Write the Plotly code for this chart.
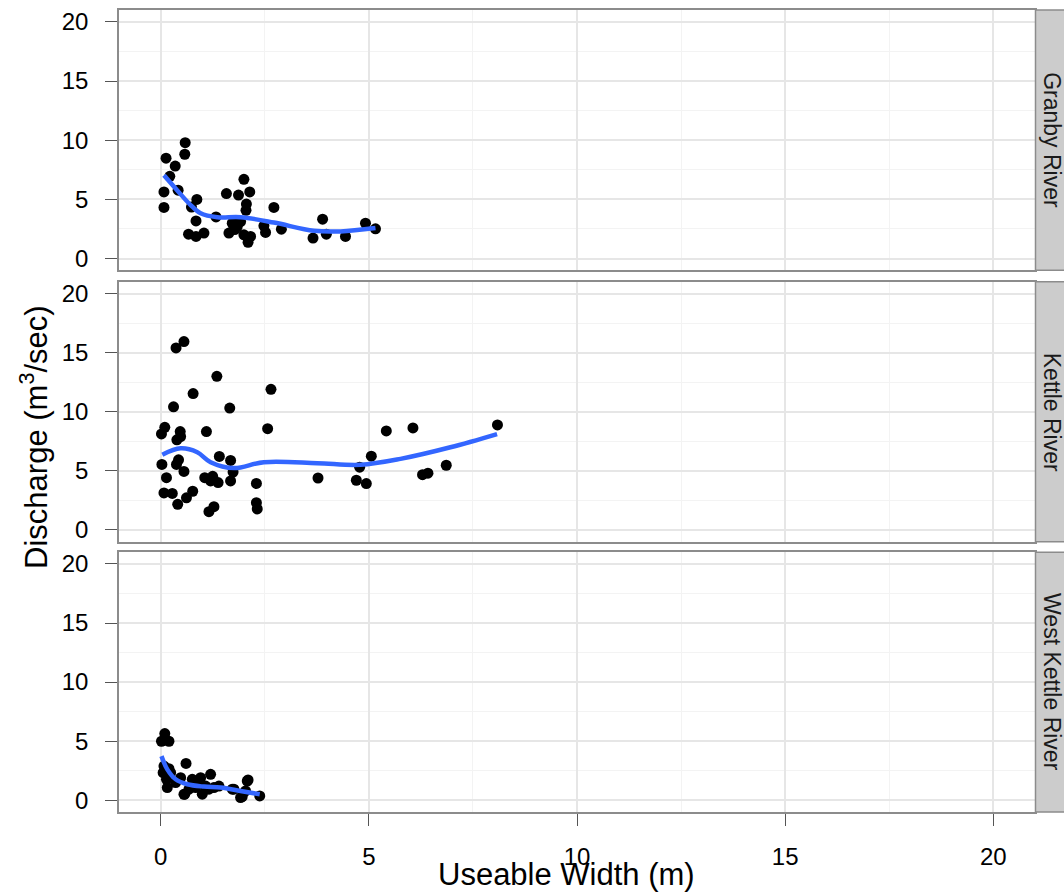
import plotly.graph_objects as go

# River names shown in the facet strips
rivers = ["Granby River", "Kettle River", "West Kettle River"]

# Observations: useable width (m) and discharge (m^3/sec)
granby_width = [0.59, 0.58, 0.13, 0.35, 0.22, 0.08, 0.42, 0.08, 0.74, 0.87, 0.85, 0.67, 0.85,
                1.04, 1.33, 1.58, 1.87, 2.00, 2.14, 2.06, 2.05, 1.64, 1.72, 1.84, 1.92, 2.00,
                2.16, 2.10, 2.72, 2.48, 2.52, 2.90, 3.89, 3.98, 3.66, 4.44, 4.92, 5.16, 1.78]
granby_discharge = [9.79, 8.81, 8.48, 7.81, 6.95, 5.63, 5.77, 4.32, 4.35, 4.99, 3.18, 2.06, 1.87,
                    2.15, 3.51, 5.49, 5.36, 6.69, 5.63, 4.60, 4.07, 2.15, 2.98, 2.70, 3.12, 2.00,
                    1.87, 1.37, 4.32, 2.76, 2.20, 2.48, 3.32, 2.06, 1.73, 1.87, 2.98, 2.51, 2.45]

kettle_width = [0.37, 0.56, 1.35, 2.65, 0.78, 0.31, 1.66, 0.10, 0.02, 0.47, 0.48, 0.39, 1.10,
                2.57, 5.42, 6.06, 8.09, 0.03, 0.43, 0.38, 0.56, 0.14, 0.08, 0.28, 0.41, 0.62,
                0.77, 1.06, 1.25, 1.38, 1.20, 1.41, 1.68, 1.74, 1.68, 1.16, 1.28, 2.30, 2.30,
                2.32, 3.78, 4.70, 4.94, 4.78, 5.06, 6.29, 6.42, 6.86]
kettle_discharge = [15.40, 15.94, 13.00, 11.90, 11.54, 10.42, 10.31, 8.68, 8.12, 8.32, 7.90, 7.62,
                    8.32, 8.57, 8.38, 8.63, 8.88, 5.54, 5.93, 5.54, 4.95, 4.42, 3.13, 3.08, 2.16,
                    2.71, 3.27, 4.42, 4.53, 4.00, 4.14, 6.22, 5.88, 4.89, 4.14, 1.54, 1.96, 3.93,
                    2.30, 1.77, 4.39, 4.20, 3.92, 5.31, 6.24, 4.67, 4.80, 5.47]

wk_width = [0.02, 0.20, 0.10, 0.61, 0.08, 0.20, 0.06, 0.16, 0.14, 0.48, 0.58, 0.76, 0.96, 0.84,
            1.00, 1.20, 1.16, 0.68, 1.40, 1.76, 1.96, 2.10, 2.04, 2.38, 0.36, 0.88, 1.08, 1.28,
            0.24, 2.08, 1.92, 1.72, 0.80, 0.56]
wk_discharge = [4.99, 4.99, 5.64, 3.11, 2.89, 2.67, 2.33, 1.07, 1.77, 1.91, 0.51, 1.77, 1.91, 1.07,
                0.51, 2.19, 0.93, 0.93, 1.20, 0.93, 0.31, 1.71, 0.78, 0.36, 1.49, 1.49, 1.20, 1.07,
                2.33, 1.62, 0.22, 0.93, 1.62, 0.50]

# Fitted smoothing curves
granby_fit_x = [0.08, 0.40, 0.72, 0.96, 1.36, 1.92, 2.72, 3.68, 4.32, 5.16]
granby_fit_y = [7.03, 5.75, 4.52, 3.82, 3.49, 3.49, 3.04, 2.34, 2.29, 2.57]
kettle_fit_x = [0.04, 0.48, 0.88, 1.20, 1.76, 2.48, 3.76, 4.80, 5.76, 6.96, 8.08]
kettle_fit_y = [6.36, 6.90, 6.57, 5.73, 5.23, 5.73, 5.65, 5.51, 6.01, 6.99, 8.11]
wk_fit_x = [0.02, 0.16, 0.36, 0.64, 1.04, 1.44, 1.92, 2.38]
wk_fit_y = [3.73, 2.61, 1.77, 1.35, 1.15, 1.07, 0.78, 0.50]

tick_vals = [0, 5, 10, 15, 20]
tick_text = ["0", "5", "10", "15", "20"]

W, H = 1064, 892
ML, MR, MT, MB = 119, 29, 8, 80
PW, PH = W - ML - MR, H - MT - MB

# Panel extents in pixels (top, bottom)
panel_px = [(8, 269), (280.5, 541), (551.5, 812)]


def ydom(top, bot):
    return [max(0.0, (H - MB - bot) / PH), min(1.0, (H - MB - top) / PH)]


def px_x(p):
    return (p - ML) / PW


def px_y(p):
    return (H - MB - p) / PH


FONT = "Liberation Sans, Arial, sans-serif"
BORDER = "#8C8C8C"
GRID = "#E6E6E6"
MINOR = "#F3F3F3"

series = [
    (granby_width, granby_discharge, granby_fit_x, granby_fit_y),
    (kettle_width, kettle_discharge, kettle_fit_x, kettle_fit_y),
    (wk_width, wk_discharge, wk_fit_x, wk_fit_y),
]

fig = go.Figure()
layout = {}
for i, (xs, ys, fx, fy) in enumerate(series, start=1):
    xa = "x" if i == 1 else f"x{i}"
    ya = "y" if i == 1 else f"y{i}"
    fig.add_trace(go.Scatter(x=xs, y=ys, mode="markers", xaxis=xa, yaxis=ya,
                             marker=dict(color="black", size=11, line=dict(width=0)),
                             showlegend=False, hoverinfo="x+y"))
    fig.add_trace(go.Scatter(x=fx, y=fy, mode="lines", xaxis=xa, yaxis=ya,
                             line=dict(color="#3366FF", width=4.5, shape="spline", smoothing=1.0),
                             showlegend=False, hoverinfo="skip"))
    bottom = i == 3
    layout["xaxis" if i == 1 else f"xaxis{i}"] = dict(
        range=[-1, 21], anchor=ya, domain=[0, 1],
        tickvals=tick_vals, ticktext=tick_text,
        showticklabels=bottom, ticks="outside" if bottom else "",
        ticklen=12, tickcolor="#555555", tickwidth=1,
        ticklabelstandoff=10,
        tickfont=dict(family=FONT, size=24, color="black"),
        showgrid=True, gridcolor=GRID, gridwidth=1.5,
        minor=dict(dtick=2.5, tick0=2.5, showgrid=True, gridcolor=MINOR, gridwidth=1),
        showline=True, linecolor=BORDER, linewidth=1.5, mirror=True, zeroline=False,
    )
    top, bot = panel_px[i - 1]
    layout["yaxis" if i == 1 else f"yaxis{i}"] = dict(
        range=[-1, 21], anchor=xa, domain=ydom(top, bot),
        tickvals=tick_vals, ticktext=tick_text,
        ticks="outside", ticklen=12, tickcolor="#555555", tickwidth=1,
        ticklabelstandoff=12,
        tickfont=dict(family=FONT, size=24, color="black"),
        showgrid=True, gridcolor=GRID, gridwidth=1.5,
        minor=dict(dtick=2.5, tick0=2.5, showgrid=True, gridcolor=MINOR, gridwidth=1),
        showline=True, linecolor=BORDER, linewidth=1.5, mirror=True, zeroline=False,
    )

shapes = []
annotations = []
for i, name in enumerate(rivers):
    top, bot = panel_px[i]
    d = ydom(top, bot)
    shapes.append(dict(type="rect", xref="paper", yref="paper",
                       x0=px_x(1035.5), x1=px_x(1070), y0=d[0], y1=d[1],
                       fillcolor="#CCCCCC", line=dict(color=BORDER, width=1.5), layer="above"))
    annotations.append(dict(text=name, xref="paper", yref="paper",
                            x=px_x(1052), y=(d[0] + d[1]) / 2,
                            xanchor="center", yanchor="middle", textangle=90,
                            showarrow=False, font=dict(family=FONT, size=23, color="#1A1A1A")))

annotations.append(dict(text="Useable Width (m)", xref="paper", yref="paper",
                        x=px_x(566), y=px_y(875), xanchor="center", yanchor="middle",
                        showarrow=False, font=dict(family=FONT, size=31, color="black")))
annotations.append(dict(text="Discharge (m<sup>3</sup>/sec)", xref="paper", yref="paper",
                        x=px_x(34), y=px_y(436), xanchor="center", yanchor="middle",
                        textangle=-90, showarrow=False,
                        font=dict(family=FONT, size=31, color="black")))

fig.update_layout(
    width=W, height=H,
    margin=dict(l=ML, r=MR, t=MT, b=MB, pad=0),
    paper_bgcolor="white", plot_bgcolor="white",
    shapes=shapes, annotations=annotations,
    **layout,
)

fig.write_html("out.html", config={"displayModeBar": False})
